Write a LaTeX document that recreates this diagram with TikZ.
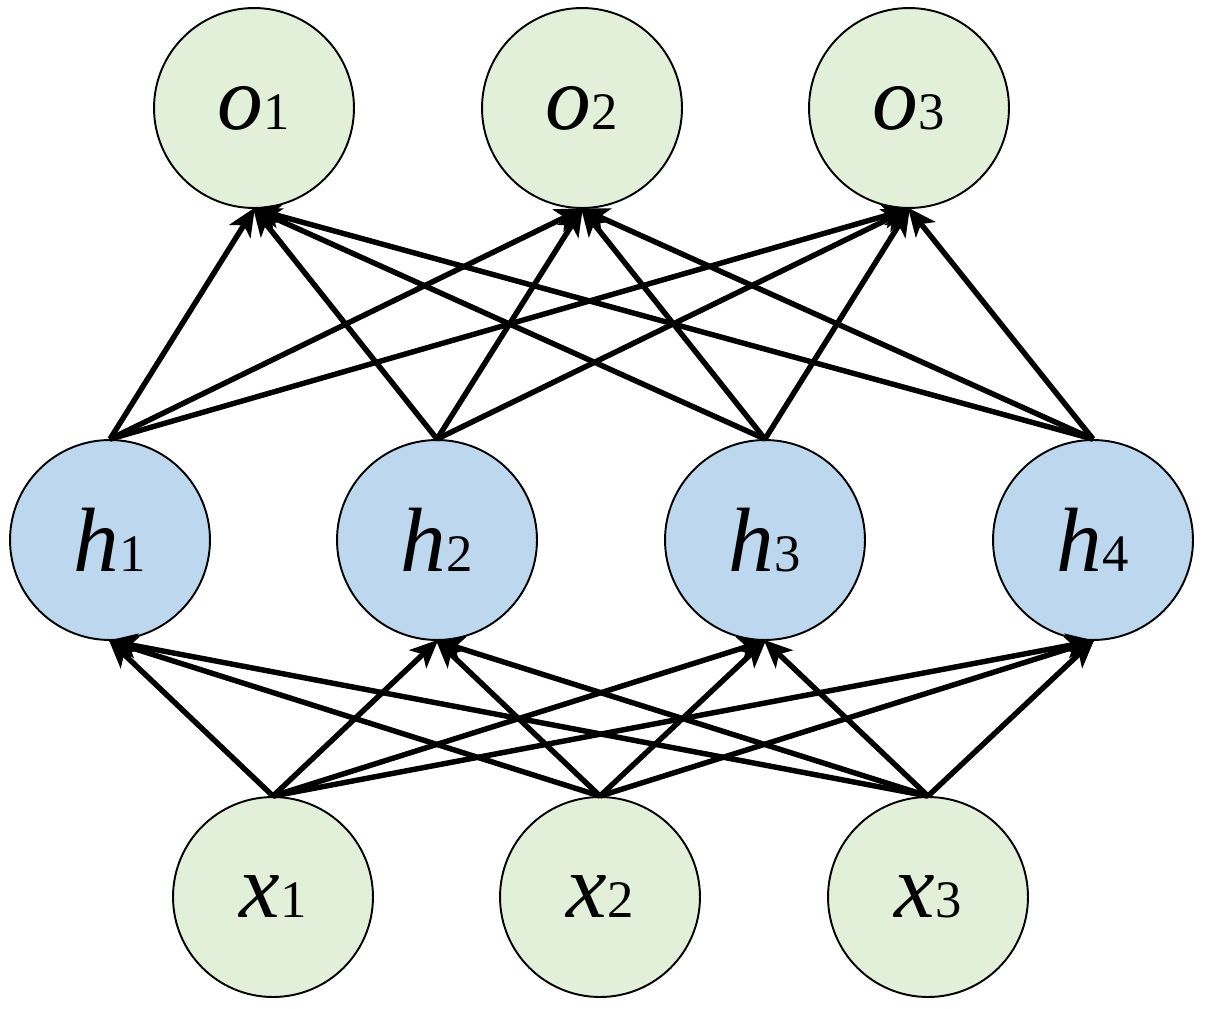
\documentclass[tikz,border=0pt]{standalone}
\usepackage{fontspec}
\newfontfamily\tnr{Liberation Serif}
\usetikzlibrary{arrows.meta}
\definecolor{gfill}{HTML}{E2F0D9}
\definecolor{bfill}{HTML}{BDD7EE}
\newcommand{\lbl}[2]{{\tnr\fontsize{52}{56}\selectfont\itshape #1}{\tnr\fontsize{30}{32}\selectfont #2}}
\begin{document}
\begin{tikzpicture}[x=0.02cm,y=-0.02cm,
  neuron/.style={circle,draw=black,line width=1.1pt,minimum size=4cm,inner sep=0pt},
  gn/.style={neuron,fill=gfill},
  bn/.style={neuron,fill=bfill},
  edge/.style={line width=3.1pt,-{Stealth[length=16pt,width=14pt,inset=4pt]},shorten >=-1pt}]
\useasboundingbox (0,0) rectangle (1207,1008);
\node[gn] (o1) at (254,108) {\lbl{o}{1}};
\node[gn] (o2) at (582,108) {\lbl{o}{2}};
\node[gn] (o3) at (909,108) {\lbl{o}{3}};
\node[bn] (h1) at (110,540) {\lbl{h}{1}};
\node[bn] (h2) at (437,540) {\lbl{h}{2}};
\node[bn] (h3) at (765,540) {\lbl{h}{3}};
\node[bn] (h4) at (1093,540) {\lbl{h}{4}};
\node[gn] (x1) at (273,897) {\lbl{x}{1}};
\node[gn] (x2) at (600,897) {\lbl{x}{2}};
\node[gn] (x3) at (928,897) {\lbl{x}{3}};
\foreach \h in {h1,h2,h3,h4}
  \foreach \o in {o1,o2,o3}
    \draw[edge] (\h.north) -- (\o.south);
\foreach \x in {x1,x2,x3}
  \foreach \h in {h1,h2,h3,h4}
    \draw[edge] (\x.north) -- (\h.south);
\end{tikzpicture}
\end{document}
